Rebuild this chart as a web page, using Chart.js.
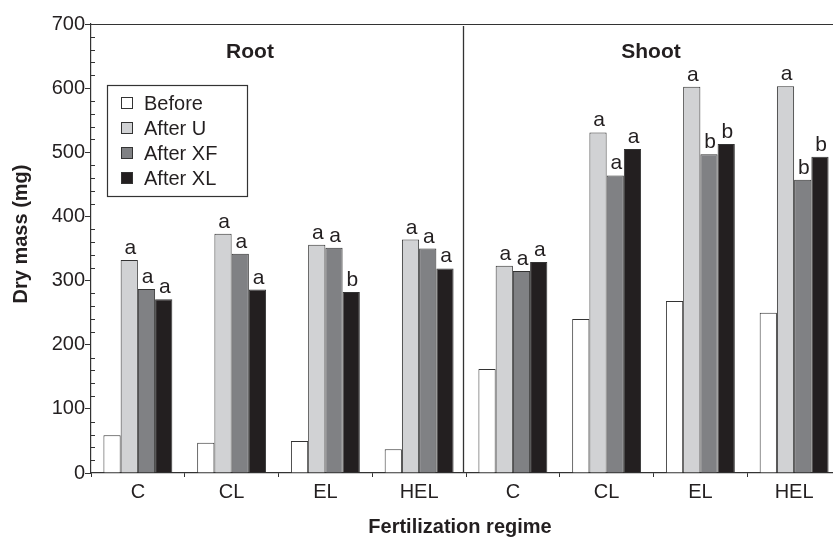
<!DOCTYPE html>
<html>
<head>
<meta charset="utf-8">
<script src="https://cdn.jsdelivr.net/npm/chart.js@4.4.0/dist/chart.umd.min.js"></script>
<style>
html,body{margin:0;padding:0;background:#fff;overflow:hidden;}
#wrap{width:845px;height:537px;position:relative;}
</style>
</head>
<body>
<div id="wrap"><canvas id="massChart"></canvas></div>
<script>
// categories: root (first 4) then shoot (last 4)
const regimes=['C','CL','EL','HEL','C','CL','EL','HEL'];
const seriesNames=['Before','After U','After XF','After XL'];
const before=[59,47,50,37,162,240,268,250];
const afterU=[332,373,356,364,323,531,602,603];
const afterXF=[287,342,351,350,315,464,497,457];
const afterXL=[271,286,282,319,329,505,513,493];
// significance letters above bars (none for Before)
const lettersBefore=['','','','','','','',''];
const lettersU=['a','a','a','a','a','a','a','a'];
const lettersXF=['a','a','a','a','a','a','b','b'];
const lettersXL=['a','a','b','a','a','a','b','b'];
const yTicks=[0,100,200,300,400,500,600,700];

const FONT='"Liberation Sans", Arial, Helvetica, sans-serif';
const INK='#231f20';
const LINE='#333';
const fills=['#ffffff','#d1d2d4','#808184','#231f20'];
const seriesData=[before,afterU,afterXF,afterXL];
const seriesLetters=[lettersBefore,lettersU,lettersXF,lettersXL];

const extras={
id:'extras',
afterDatasetsDraw(chart){
const ctx=chart.ctx,a=chart.chartArea,x=chart.scales.x,y=chart.scales.y;
ctx.save();
// frame top/right
ctx.strokeStyle=LINE;ctx.lineWidth=1.2;
ctx.beginPath();ctx.moveTo(a.left,a.top+0.5);ctx.lineTo(a.right,a.top+0.5);ctx.lineTo(a.right,a.bottom);ctx.stroke();
// minor y ticks, inward
ctx.lineWidth=1;
for(let v=20;v<700;v+=20){
if(v%100===0)continue;
const py=Math.round(y.getPixelForValue(v))+0.5;
ctx.beginPath();ctx.moveTo(a.left,py);ctx.lineTo(a.left+4,py);ctx.stroke();
}
// root / shoot divider
const dx=Math.round((x.getPixelForValue(3)+x.getPixelForValue(4))/2)-3+0.5;
ctx.lineWidth=1.3;
ctx.beginPath();ctx.moveTo(dx,a.top+2);ctx.lineTo(dx,a.bottom-1);ctx.stroke();
// letters
ctx.fillStyle=INK;ctx.font='21px '+FONT;ctx.textAlign='center';ctx.textBaseline='alphabetic';
chart.data.datasets.forEach((ds,i)=>{
const meta=chart.getDatasetMeta(i);
meta.data.forEach((bar,j)=>{
const t=seriesLetters[i][j];
if(t)ctx.fillText(t,bar.x+1,bar.y-6);
});
});
// panel titles
ctx.font='bold 21px '+FONT;ctx.textBaseline='middle';
ctx.fillText('Root',a.left+159,52);
ctx.fillText('Shoot',a.left+560,52);
// axis titles
ctx.font='bold 20px '+FONT;
ctx.fillText('Fertilization regime',460,527);
ctx.save();ctx.translate(21,234);ctx.rotate(-Math.PI/2);ctx.fillText('Dry mass (mg)',0,0);ctx.restore();
// legend box
const lx=a.left+16,ly=85;
ctx.strokeStyle=LINE;ctx.lineWidth=1.2;
ctx.strokeRect(lx+0.5,ly+0.5,140,111);
ctx.font='20px '+FONT;ctx.textAlign='left';
chart.data.datasets.forEach((ds,i)=>{
const cy=ly+18+i*25;
ctx.fillStyle=ds.backgroundColor;ctx.fillRect(lx+14,cy-6,12,12);
ctx.strokeStyle=LINE;ctx.lineWidth=1;ctx.strokeRect(lx+14.5,cy-5.5,11,11);
ctx.fillStyle=INK;ctx.fillText(ds.label,lx+37,cy+1);
});
ctx.restore();
}
};

new Chart(document.getElementById('massChart'),{
type:'bar',
data:{labels:regimes,datasets:seriesData.map((d,i)=>({
label:seriesNames[i],data:d,backgroundColor:fills[i],borderColor:LINE,borderWidth:1,
categoryPercentage:0.735,barPercentage:1
}))},
options:{
responsive:true,maintainAspectRatio:false,animation:false,
layout:{padding:{top:24,right:4,left:0,bottom:0}},
plugins:{legend:{display:false},tooltip:{enabled:false}},
scales:{
x:{
grid:{offset:true,drawOnChartArea:false,tickLength:4,color:LINE},
border:{color:LINE,width:1.2},
ticks:{color:INK,font:{family:FONT,size:20},padding:3,maxRotation:0,autoSkip:false},
afterFit(s){s.height=64;}
},
y:{
min:0,max:700,
afterBuildTicks(s){s.ticks=yTicks.map(v=>({value:v}));},
grid:{drawOnChartArea:false,tickLength:6,color:LINE},
border:{color:LINE,width:1.2},
ticks:{color:INK,font:{family:FONT,size:20},padding:0},
afterFit(s){s.width=91;}
}
}
},
plugins:[extras]
});
</script>
</body>
</html>
